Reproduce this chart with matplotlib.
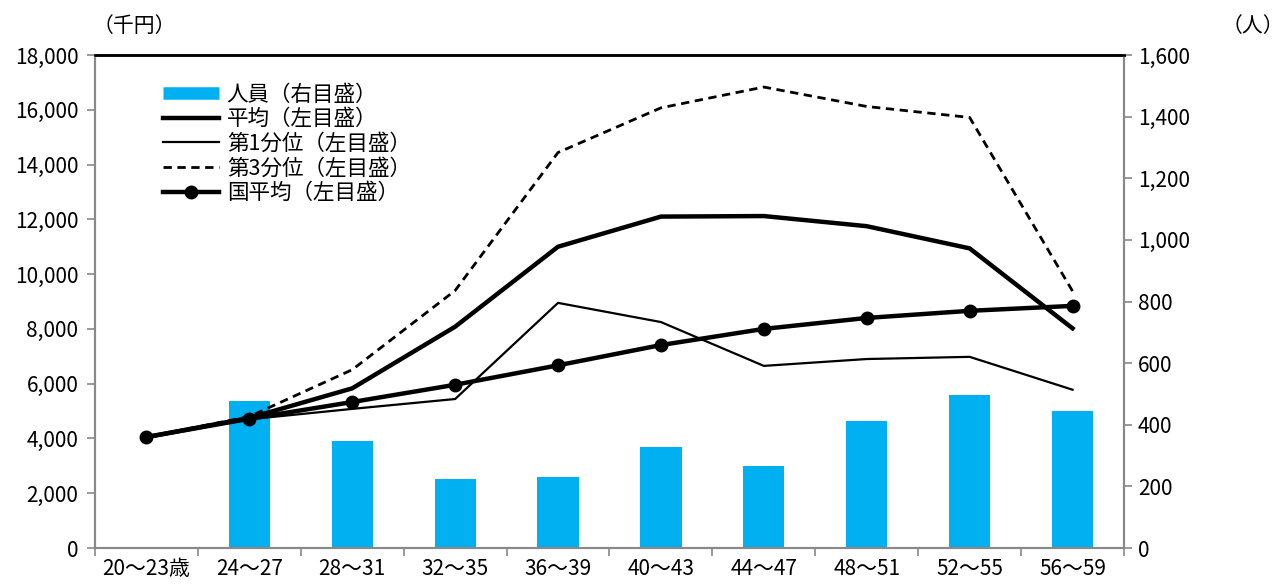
import numpy as np
import matplotlib
matplotlib.use("Agg")
import matplotlib.pyplot as plt
from matplotlib.lines import Line2D
from matplotlib.ticker import FuncFormatter, FixedLocator

plt.rcParams['font.family'] = ['Noto Sans CJK JP', 'DejaVu Sans']

categories = ['20～23歳', '24～27', '28～31', '32～35', '36～39',
              '40～43', '44～47', '48～51', '52～55', '56～59']
people = [np.nan, 478, 347, 225, 229, 328, 267, 412, 497, 444]
mean_pay = [4050, 4750, 5830, 8080, 11000, 12100, 12120, 11750, 10940, 8020]
q1_pay = [4050, 4700, 5080, 5440, 8950, 8250, 6650, 6900, 6980, 5780]
q3_pay = [4050, 4800, 6510, 9400, 14440, 16070, 16830, 16120, 15720, 9380]
national_pay = [4050, 4720, 5330, 5960, 6670, 7410, 8000, 8400, 8660, 8840]

labels = ['人員（右目盛）', '平均（左目盛）', '第1分位（左目盛）', '第3分位（左目盛）', '国平均（左目盛）']

BLUE = '#00B0F0'
GRAY = '#898989'

fig = plt.figure(figsize=(12.85, 5.85), dpi=100)
ax = fig.add_axes([0.0739, 0.0632, 0.8008, 0.8428])
ax2 = ax.twinx()

x = np.arange(len(categories))
ax2.bar(x, people, width=0.4, color=BLUE, zorder=1)
ax2.set_ylim(0, 1600)
ax2.set_yticks(np.arange(0, 1601, 200))

ax.plot(x, mean_pay, color='black', lw=3.2, zorder=3, solid_joinstyle='miter')
ax.plot(x, q1_pay, color='black', lw=1.6, zorder=3)
ax.plot(x, q3_pay, color='black', lw=2.0, ls=(0, (3, 2)), zorder=3)
ax.plot(x, national_pay, color='black', lw=3.2, marker='o', ms=9, zorder=4)

ax.set_zorder(ax2.get_zorder() + 1)
ax.patch.set_visible(False)

ax.set_xlim(-0.5, len(categories) - 0.5)
ax.set_ylim(0, 18000)
ax.set_yticks(np.arange(0, 18001, 2000))

fmt = FuncFormatter(lambda v, p: f'{int(v):,}')
ax.yaxis.set_major_formatter(fmt)
ax2.yaxis.set_major_formatter(fmt)

ax.set_xticks(x)
ax.set_xticklabels(categories)
ax.xaxis.set_minor_locator(FixedLocator(np.arange(-0.5, len(categories), 1.0)))
ax.tick_params(axis='x', which='major', length=0, labelsize=15, pad=7)
ax.tick_params(axis='x', which='minor', length=6, color=GRAY, width=1.2, direction='out')
ax.tick_params(axis='y', length=6, color=GRAY, width=1.2, labelsize=15, pad=6)
ax2.tick_params(axis='y', length=6, color=GRAY, width=1.2, labelsize=15, pad=4)

for a in (ax, ax2):
    for s in ('left', 'right', 'bottom'):
        a.spines[s].set_color(GRAY)
        a.spines[s].set_linewidth(1.5)
    a.spines['top'].set_color('black')
    a.spines['top'].set_linewidth(1.8)

handles = [
    Line2D([], [], color=BLUE, lw=9, solid_capstyle='butt'),
    Line2D([], [], color='black', lw=3.2),
    Line2D([], [], color='black', lw=1.6),
    Line2D([], [], color='black', lw=2.0, ls=(0, (3, 2))),
    Line2D([], [], color='black', lw=3.2, marker='o', ms=9),
]
leg = ax.legend(handles, labels, loc='upper left', bbox_to_anchor=(0.058, 0.959),
                frameon=False, fontsize=15.5, handlelength=2.6, handletextpad=0.35,
                labelspacing=0.12, borderaxespad=0)

fig.text(0.072, 0.955, '（千円）', fontsize=15, ha='left', va='center')
fig.text(0.999, 0.955, '（人）', fontsize=15, ha='right', va='center')

fig.savefig('out.png', dpi=100)
